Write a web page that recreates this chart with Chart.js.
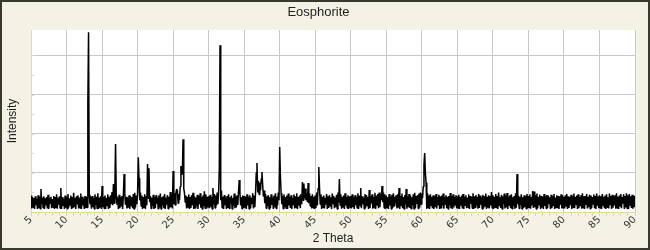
<!DOCTYPE html>
<html><head><meta charset="utf-8">
<script src="https://cdn.jsdelivr.net/npm/chart.js@4.4.1/dist/chart.umd.min.js"></script>
<style>html,body{margin:0;padding:0;background:#F4F2E5}</style>
</head><body>
<canvas id="c" width="650" height="250"></canvas>
<script>
const chartTitle = 'Eosphorite';
const xAxisTitle = '2 Theta';
const yAxisTitle = 'Intensity';
const twoThetaStart = 5;
const twoThetaStep = 0.1;
const twoThetaMin = 5, twoThetaMax = 90;
const xLabelEvery = 5;
const intensityMax = 930;
// measured intensity, one value per 0.1 degree 2-theta, from 5.0 to 90.0
const intensity = [
84,18,76,24,72,15,80,35,68,15,86,20,78,16,117,40,74,22,80,15,70,33,76,18,88,15,72,45,78,20,66,24,82,15,76,21,90,17,72,38,80,19,123,15,76,31,68,16,84,22,
78,16,92,22,70,36,84,15,76,19,98,24,72,15,80,42,86,18,74,21,94,15,78,33,70,15,82,20,76,23,556,918,88,40,76,17,82,24,72,15,90,35,78,18,96,15,74,22,80,16,
133,24,76,18,84,15,72,33,90,16,78,21,86,40,102,35,143,45,120,347,80,38,74,15,88,20,76,31,82,16,86,194,94,36,78,18,72,22,86,15,80,32,76,19,92,15,98,23,84,40,
96,280,173,60,100,30,84,16,76,21,90,15,80,35,245,70,224,50,82,18,74,31,88,15,78,20,86,43,72,16,84,23,94,15,76,34,80,19,92,15,74,38,86,17,78,22,102,24,90,18,
209,40,96,36,100,117,110,45,92,60,130,235,190,200,372,120,96,50,84,18,78,24,90,15,76,21,86,35,98,15,80,20,74,33,88,16,82,40,96,22,76,15,84,31,106,19,90,17,78,23,
80,19,88,24,76,15,122,38,92,20,84,33,100,40,96,224,852,60,110,22,78,16,86,35,74,15,82,21,90,18,76,42,84,15,72,31,94,19,80,23,86,36,100,163,98,34,76,16,84,21,
82,22,76,16,90,33,78,15,86,20,72,41,96,18,84,24,100,200,250,100,160,90,150,110,170,204,140,80,110,45,92,19,80,31,86,15,76,21,90,36,74,16,84,23,96,18,78,33,100,60,
332,180,96,40,82,16,90,24,76,19,84,15,94,34,78,21,86,15,72,38,90,18,80,23,96,15,76,33,84,20,92,40,153,60,145,70,120,60,95,50,148,45,96,31,82,18,90,22,78,16,
86,20,100,33,120,230,128,40,90,15,78,23,84,18,72,37,92,15,80,21,86,31,76,16,94,43,82,19,74,24,88,15,100,50,168,35,90,17,78,22,84,15,96,34,76,20,86,16,80,24,
82,18,90,24,76,15,86,35,78,21,96,15,84,32,122,19,80,40,74,16,92,22,86,33,78,15,112,20,82,44,90,17,76,23,98,15,84,36,92,19,100,24,86,60,133,50,100,21,90,16,
84,23,76,16,92,34,80,15,88,20,96,31,78,45,86,18,90,22,122,15,82,33,94,19,76,15,86,38,117,17,80,24,92,21,84,16,76,35,90,15,98,20,82,41,86,18,94,23,100,40,
95,70,130,240,301,200,150,16,96,22,84,16,90,33,78,19,86,15,82,24,92,18,76,37,88,15,80,21,84,32,94,17,76,40,86,20,78,15,82,34,97,19,82,16,90,23,76,36,86,18,
80,21,88,15,76,32,84,18,92,15,78,35,86,20,74,24,90,16,82,42,76,19,96,15,80,23,86,33,78,17,92,21,84,38,76,15,88,20,82,31,94,16,78,22,86,18,80,34,102,20,
86,16,78,24,92,19,82,15,100,33,76,21,88,15,80,40,94,18,84,23,97,15,78,35,86,20,90,17,76,31,82,16,96,22,194,40,84,18,78,36,90,15,76,21,86,24,82,16,92,19,
82,23,90,17,76,34,107,20,105,24,86,15,94,19,78,37,88,16,82,22,76,15,92,31,80,18,87,21,84,44,76,15,88,20,80,33,92,16,74,23,86,19,82,15,78,38,90,18,84,21,
78,18,86,31,92,15,80,21,76,35,88,16,82,23,94,19,78,40,84,15,90,20,76,33,86,17,96,22,80,15,82,36,92,18,78,24,88,16,84,21,76,41,90,19,82,15,94,32,80,20,
86,21,80,16,92,33,78,19,84,15,90,24,76,18,94,38,82,15,88,22,80,34,86,17,96,20,78,15,84,31,92,19,76,42,90,16,82,23,96,18,86,15,92,35,80,21,88,17,84,24,
82
];

const points = intensity.map((v, i) => ({ x: +(twoThetaStart + i * twoThetaStep).toFixed(1), y: v }));

const CREAM = '#F4F2E5', GRID = '#C8C8C8', AXIS = '#E2DA9E', FRAME = '#3A3930';

const framePlugin = {
  id: 'frame',
  beforeDraw(chart) {
    const { ctx, chartArea: a, width, height } = chart;
    ctx.save();
    ctx.fillStyle = CREAM;
    ctx.fillRect(0, 0, width, height);
    ctx.fillStyle = '#FFFFFF';
    ctx.fillRect(a.left, a.top, a.right - a.left, a.bottom - a.top);
    ctx.restore();
  },
  afterDraw(chart) {
    const { ctx, chartArea: a, width, height } = chart;
    const ys = chart.scales.y;
    ctx.save();
    ctx.strokeStyle = AXIS;
    ctx.lineWidth = 1;
    ctx.beginPath();
    ys.ticks.forEach(t => {
      if (t.value <= 0 || t.value % 100 !== 0) return;
      const py = Math.round(ys.getPixelForValue(t.value)) + 0.5;
      ctx.moveTo(a.left, py);
      ctx.lineTo(a.left + 3, py);
    });
    ctx.stroke();
    ctx.strokeStyle = FRAME;
    ctx.lineWidth = 2;
    ctx.strokeRect(1, 1, width - 2, height - 2);
    ctx.restore();
  }
};

new Chart(document.getElementById('c'), {
  type: 'line',
  data: {
    datasets: [{
      data: points,
      borderColor: '#000000',
      borderWidth: 1.5,
      borderJoinStyle: 'bevel',
      pointRadius: 0,
      tension: 0,
      fill: false
    }]
  },
  options: {
    responsive: false,
    animation: false,
    parsing: false,
    normalized: true,
    layout: { padding: { left: 2, right: 15, top: 0, bottom: 2 } },
    plugins: {
      legend: { display: false },
      tooltip: { enabled: false },
      title: {
        display: true,
        text: chartTitle,
        color: '#1E1E1E',
        font: { family: 'Liberation Sans', size: 13, weight: 'normal' },
        padding: { top: 5, bottom: 9.4 }
      }
    },
    scales: {
      x: {
        type: 'linear',
        min: twoThetaMin,
        max: twoThetaMax,
        afterFit: s => { s.height = 36; },
        border: { color: AXIS, width: 1 },
        grid: {
          color: c => (c.tick && c.tick.value % xLabelEvery === 0 && c.tick.value !== twoThetaMin) ? GRID : 'rgba(0,0,0,0)',
          lineWidth: 1,
          drawTicks: true,
          tickLength: 4,
          tickColor: AXIS
        },
        ticks: {
          stepSize: 1,
          autoSkip: false,
          minRotation: 45,
          maxRotation: 45,
          padding: -2,
          color: '#333333',
          font: { family: 'DejaVu Sans', size: 10 },
          callback: v => (v % xLabelEvery === 0 ? String(v) : '')
        },
        title: {
          display: true,
          text: xAxisTitle,
          color: '#1E1E1E',
          font: { family: 'Liberation Sans', size: 12 },
          padding: { top: 0, bottom: 2 }
        }
      },
      y: {
        type: 'linear',
        min: 0,
        max: intensityMax,
        afterFit: s => { s.width = 29; },
        border: { color: AXIS, width: 1 },
        grid: {
          color: c => (c.tick && c.tick.value > 0 && c.tick.value % 200 === 0) ? GRID : 'rgba(0,0,0,0)',
          lineWidth: 1,
          drawTicks: false
        },
        ticks: { stepSize: 100, display: false },
        title: {
          display: true,
          text: yAxisTitle,
          color: '#1E1E1E',
          font: { family: 'Liberation Sans', size: 12 },
          padding: { top: 3, bottom: 0 }
        }
      }
    }
  },
  plugins: [framePlugin]
});
</script>
</body></html>
